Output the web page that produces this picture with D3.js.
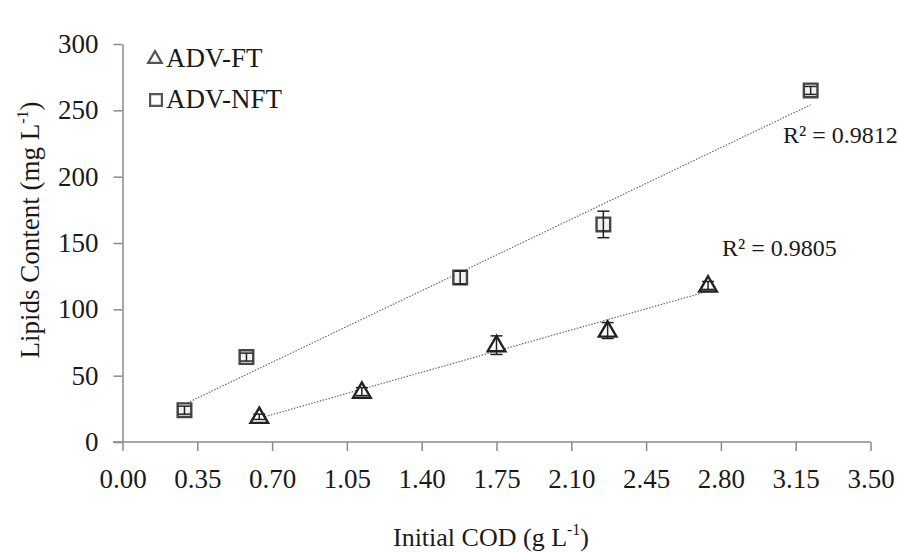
<!DOCTYPE html>
<html><head><meta charset="utf-8">
<script src="https://cdn.jsdelivr.net/npm/d3@7"></script>
<style>
body{margin:0;background:#fff;}
text{font-family:"Liberation Serif","Times New Roman",serif;fill:#1a1a1a;}
</style></head>
<body><svg id="c" width="899" height="552"></svg>
<script>
// Data
const ftX = [0.64, 1.12, 1.75, 2.27, 2.74];
const ftY = [19, 38, 73, 84, 118];
const ftErr = [2, 3, 7, 6, 3];
const nftX = [0.29, 0.58, 1.58, 2.25, 3.22];
const nftY = [24, 64, 124, 164, 265];
const nftErr = [3, 3, 5, 10, 3];
const xTicks = [0, 0.35, 0.70, 1.05, 1.40, 1.75, 2.10, 2.45, 2.80, 3.15, 3.50];
const yTicks = [0, 50, 100, 150, 200, 250, 300];
const r2Labels = ["R² = 0.9805", "R² = 0.9812"];
const seriesNames = ["ADV-FT", "ADV-NFT"];

const svg = d3.select("#c");
const x = d3.scaleLinear().domain([0, 3.5]).range([122.5, 870.5]);
const y = d3.scaleLinear().domain([0, 300]).range([442, 44]);

// Axes
const gx = svg.append("g").attr("transform", "translate(0,442)")
  .call(d3.axisBottom(x).tickValues(xTicks).tickFormat(d3.format(".2f")).tickSize(9).tickPadding(18).tickSizeOuter(0));
const gy = svg.append("g").attr("transform", "translate(122.5,0)")
  .call(d3.axisLeft(y).tickValues(yTicks).tickSize(9).tickPadding(15).tickSizeOuter(0));
[gx, gy].forEach(g => {
  g.select(".domain").attr("stroke", "#8a8a8a").attr("stroke-width", 1.5);
  g.selectAll(".tick line").attr("stroke", "#8a8a8a").attr("stroke-width", 1.5);
  g.selectAll(".tick text").attr("font-size", 27).attr("font-family", "Liberation Serif").attr("fill", "#1a1a1a");
});
gx.select(".domain").attr("d", `M113,0H${x(3.5)}`);

// Regression lines
function fit(xs, ys) {
  const n = xs.length, mx = d3.mean(xs), my = d3.mean(ys);
  let sxy = 0, sxx = 0;
  for (let i = 0; i < n; i++) { sxy += (xs[i]-mx)*(ys[i]-my); sxx += (xs[i]-mx)**2; }
  const b = sxy / sxx, a = my - b * mx;
  return [[d3.min(xs), a + b*d3.min(xs)], [d3.max(xs), a + b*d3.max(xs)]];
}
const line = d3.line().x(d => x(d[0])).y(d => y(d[1]));
[[ftX, ftY], [nftX, nftY]].forEach(([xs, ys]) => {
  svg.append("path").attr("d", line(fit(xs, ys)))
    .attr("fill", "none").attr("stroke", "#6a6a6a").attr("stroke-width", 1.2)
    .attr("stroke-dasharray", "1.5,1.5");
});

// Error bars
function errs(xs, ys, es) {
  const g = svg.append("g").attr("stroke", "#222").attr("stroke-width", 1.5);
  xs.forEach((xv, i) => {
    const cx = x(xv), y1 = y(ys[i] + es[i]), y2 = y(ys[i] - es[i]);
    g.append("line").attr("x1", cx).attr("x2", cx).attr("y1", y1).attr("y2", y2);
    g.append("line").attr("x1", cx-6).attr("x2", cx+6).attr("y1", y1).attr("y2", y1);
    g.append("line").attr("x1", cx-6).attr("x2", cx+6).attr("y1", y2).attr("y2", y2);
  });
}

// Markers
const tri = d3.symbol().type(d3.symbolTriangle).size(135);
const sq = d3.symbol().type(d3.symbolSquare).size(185);
svg.append("g").selectAll("path").data(nftX.map((v, i) => [v, nftY[i]])).join("path")
  .attr("d", sq).attr("transform", d => `translate(${x(d[0])},${y(d[1])})`)
  .attr("fill", "#f2f2f2").attr("stroke", "#444").attr("stroke-width", 2.4);
errs(nftX, nftY, nftErr);
svg.append("g").selectAll("path").data(ftX.map((v, i) => [v, ftY[i]])).join("path")
  .attr("d", tri).attr("transform", d => `translate(${x(d[0])},${y(d[1])+1})`)
  .attr("fill", "#fff").attr("stroke", "#222").attr("stroke-width", 2.4);
errs(ftX, ftY, ftErr);

// R² labels
svg.append("text").attr("x", 722).attr("y", 256).attr("font-size", 24).text(r2Labels[0]);
svg.append("text").attr("x", 783).attr("y", 143).attr("font-size", 24).text(r2Labels[1]);

// Legend
svg.append("path").attr("d", d3.symbol().type(d3.symbolTriangle).size(80))
  .attr("transform", "translate(155,59)").attr("fill", "#fff").attr("stroke", "#555").attr("stroke-width", 2.2);
svg.append("text").attr("x", 166).attr("y", 67).attr("font-size", 27).text(seriesNames[0]);
svg.append("path").attr("d", d3.symbol().type(d3.symbolSquare).size(140))
  .attr("transform", "translate(156,100)").attr("fill", "#fff").attr("stroke", "#555").attr("stroke-width", 2.2);
svg.append("text").attr("x", 166).attr("y", 108).attr("font-size", 27).text(seriesNames[1]);

// Axis titles
const xt = svg.append("text").attr("x", 491).attr("y", 546).attr("text-anchor", "middle").attr("font-size", 26);
xt.append("tspan").text("Initial COD (g L");
xt.append("tspan").attr("font-size", 16).attr("dy", -11).text("-1");
xt.append("tspan").attr("dy", 11).text(")");
const yt = svg.append("text").attr("transform", "translate(39,230) rotate(-90)").attr("text-anchor", "middle").attr("font-size", 27);
yt.append("tspan").text("Lipids Content (mg L");
yt.append("tspan").attr("font-size", 16).attr("dy", -11).text("-1");
yt.append("tspan").attr("dy", 11).text(")");
</script></body></html>
